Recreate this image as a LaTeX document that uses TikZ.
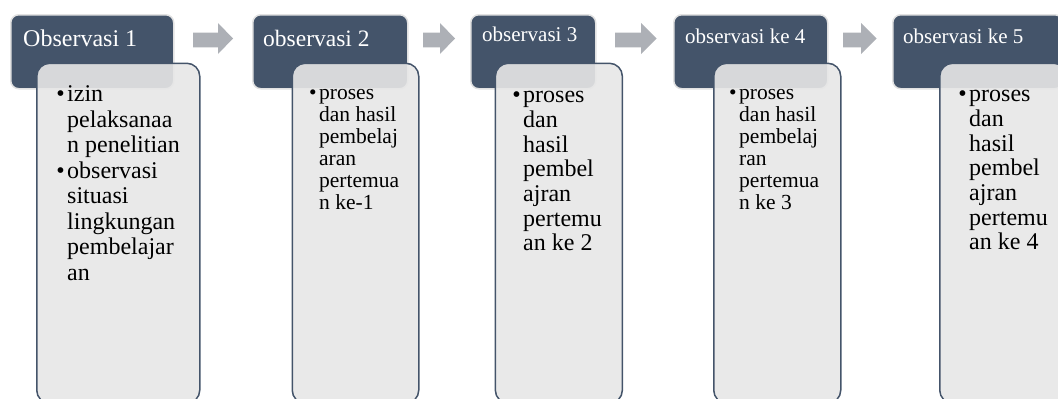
\documentclass[tikz,border=0pt]{standalone}
\usepackage{fontspec}
\setmainfont{Liberation Serif}
\definecolor{headfill}{RGB}{68,84,106}
\definecolor{headline}{RGB}{226,226,226}
\definecolor{bodyfill}{RGB}{231,231,231}
\definecolor{arrowc}{RGB}{173,176,182}
\tikzset{
  headbox/.style={draw=headline, line width=1.5pt, fill=headfill, rounded corners=8pt,
    anchor=north west, inner sep=0pt, rectangle},
  bodybox/.style={draw=headfill, line width=1.5pt, fill=bodyfill, fill opacity=0.9,
    rounded corners=13pt, anchor=north west, inner sep=0pt, rectangle, minimum height=340pt},
  headtext/.style={text=white, anchor=base west, inner sep=0pt},
  bodytext/.style={text=black, anchor=base west, inner sep=0pt},
  bigtext/.style={bodytext, font=\fontsize{24}{24.7}\selectfont},
  smalltext/.style={bodytext, font=\fontsize{21.5}{22}\selectfont},
  blockarrow/.style={fill=arrowc, draw=none}
}
\newcommand{\bul}{\llap{\textbullet\hspace{2.5pt}}}
\newenvironment{lines}{\begin{tabular}[t]{@{}l@{}}}{\end{tabular}}
\begin{document}
\begin{tikzpicture}[x=1pt,y=-1pt]
\useasboundingbox (0,0) rectangle (1058,399);
% headers
\node[headbox, minimum width=163pt, minimum height=74pt] (h1) at (10,14) {};
\node[headbox, minimum width=155pt, minimum height=74pt] (h2) at (252,14) {};
\node[headbox, minimum width=125pt, minimum height=74pt] (h3) at (470,14) {};
\node[headbox, minimum width=154pt, minimum height=74pt] (h4) at (673,14) {};
\node[headbox, minimum width=170pt, minimum height=74pt] (h5) at (892,14) {};
% arrows
\fill[blockarrow] (193,32.7) -- (218,32.7) -- (218,23) -- (233,38.5) -- (218,54) -- (218,47.3) -- (193,47.3) -- cycle;
\fill[blockarrow] (423,32.7) -- (440,32.7) -- (440,23) -- (455,38.5) -- (440,54) -- (440,47.3) -- (423,47.3) -- cycle;
\fill[blockarrow] (615,32.7) -- (641,32.7) -- (641,23) -- (656.5,38.5) -- (641,54) -- (641,47.3) -- (615,47.3) -- cycle;
\fill[blockarrow] (843,32.7) -- (861,32.7) -- (861,23) -- (876.5,38.5) -- (861,54) -- (861,47.3) -- (843,47.3) -- cycle;
% bodies
\node[bodybox, minimum width=163pt] (b1) at (36,62.5) {};
\node[bodybox, minimum width=126.5pt] (b2) at (291.5,62.5) {};
\node[bodybox, minimum width=127pt] (b3) at (494.6,62.5) {};
\node[bodybox, minimum width=127pt] (b4) at (713,62.5) {};
\node[bodybox, minimum width=127pt] (b5) at (939,62.5) {};
% header texts
\node[headtext, font=\fontsize{24}{28}\selectfont] (t1) at (23,46.7) {Observasi 1};
\node[headtext, font=\fontsize{23.5}{28}\selectfont] (t2) at (263,46.7) {observasi 2};
\node[headtext, font=\fontsize{21}{25}\selectfont] (t3) at (482,41.7) {observasi 3};
\node[headtext, font=\fontsize{21}{25}\selectfont] (t4) at (685,43.3) {observasi ke 4};
\node[headtext, font=\fontsize{21}{25}\selectfont] (t5) at (903,43.3) {observasi ke 5};
% body texts
\node[bigtext, font=\fontsize{24}{25.5}\selectfont] (x1) at (67,101.7)
  {\begin{lines}\bul izin\\pelaksanaa\\n penelitian\\\bul observasi\\situasi\\lingkungan\\pembelajar\\an\end{lines}};
\node[smalltext] (x2) at (319,99.3)
  {\begin{lines}\bul proses\\dan hasil\\pembelaj\\aran\\pertemua\\n ke-1\end{lines}};
\node[bigtext] (x3) at (523,102.7)
  {\begin{lines}\bul proses\\dan\\hasil\\pembel\\ajran\\pertemu\\an ke 2\end{lines}};
\node[smalltext] (x4) at (739,99.3)
  {\begin{lines}\bul proses\\dan hasil\\pembelaj\\ran\\pertemua\\n ke 3\end{lines}};
\node[bigtext] (x5) at (969,101.7)
  {\begin{lines}\bul proses\\dan\\hasil\\pembel\\ajran\\pertemu\\an ke 4\end{lines}};
\end{tikzpicture}
\end{document}
